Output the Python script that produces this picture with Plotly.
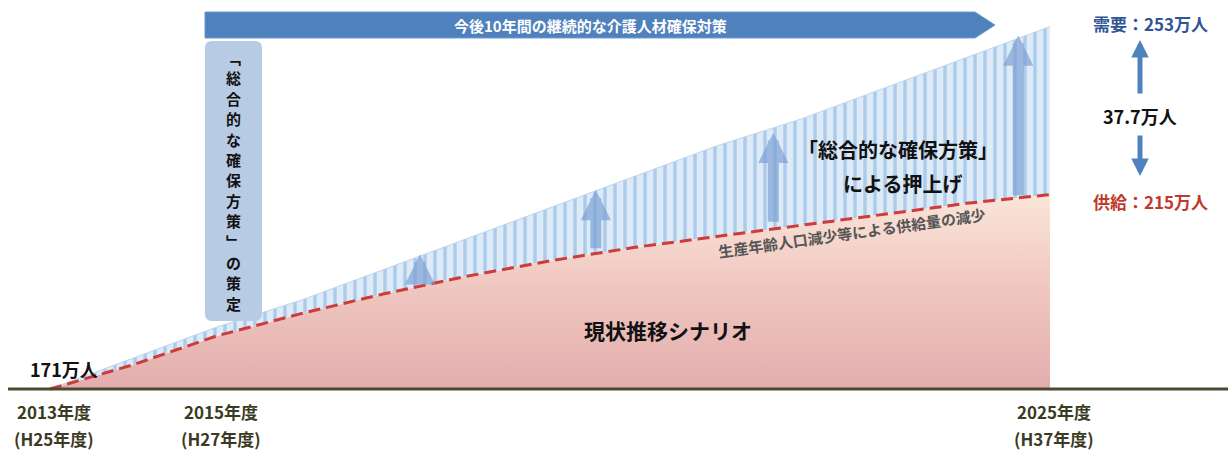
import plotly.graph_objects as go

# ---- data ----
years = [2013, 2014, 2015, 2016, 2017, 2018, 2019, 2020, 2021, 2022, 2023, 2024, 2025]
supply = [171, 176.5, 183, 188, 192.5, 196.5, 200, 203, 205.5, 208, 210.5, 213, 215]   # 現状推移シナリオ (万人)
demand = [171, 178, 185, 191, 198, 205, 212, 219, 226, 232, 239, 246, 253]            # 需要 (万人)
base_value = 171
tick_years = [2013, 2015, 2025]
tick_line1 = ["2013年度", "2015年度", "2025年度"]
tick_line2 = ["(H25年度)", "(H27年度)", "(H37年度)"]

W, H = 1229, 452
FONT = "Noto Sans CJK JP"


def pp(x, y):
    """pixel -> paper coords"""
    return x / W, 1 - y / H


fig = go.Figure()

# base (invisible) line for the supply fill
fig.add_trace(go.Scatter(x=years, y=[base_value] * len(years), mode="lines",
                         line=dict(width=0), hoverinfo="skip"))
# supply area with gradient
fig.add_trace(go.Scatter(
    x=years, y=supply, mode="lines", line=dict(width=0), fill="tonexty",
    fillgradient=dict(type="vertical", start=171, stop=215,
                      colorscale=[[0, "#e3adad"], [0.5, "#efc6bf"], [1, "#fbe5d8"]]),
    hoverinfo="skip"))
# demand hatched area
fig.add_trace(go.Scatter(
    x=years, y=demand, mode="lines", line=dict(width=1, color="#bcd5ee"), fill="tonexty",
    fillcolor="#dceaf7",
    fillpattern=dict(shape="|", bgcolor="#ddebf7", fgcolor="#80a9df", size=10, solidity=0.35),
    hoverinfo="skip"))
# dashed supply line on top
fig.add_trace(go.Scatter(x=years, y=supply, mode="lines",
                         line=dict(color="#cf3a3a", width=3, dash="12px,6px"),
                         hoverinfo="skip"))

shapes = []
# base line
shapes.append(dict(type="line", xref="paper", yref="y", x0=8 / W, x1=1228 / W,
                   y0=base_value, y1=base_value, line=dict(color="#4b4a30", width=3)))
# banner arrow
pts = [(205, 12), (975, 12), (995, 25), (975, 38), (205, 38)]
path = "M " + " L ".join(f"{pp(x, y)[0]:.5f},{pp(x, y)[1]:.5f}" for x, y in pts) + " Z"
shapes.append(dict(type="path", xref="paper", yref="paper", path=path,
                   fillcolor="#4f81bd", line=dict(color="#6f9ad0", width=1)))
# vertical rounded box
x0, x1, y0, y1, r = 205, 262, 41, 321, 7
def P(x, y):
    a, b = pp(x, y)
    return f"{a:.5f},{b:.5f}"
box = (f"M {P(x0 + r, y0)} L {P(x1 - r, y0)} Q {P(x1, y0)} {P(x1, y0 + r)} "
       f"L {P(x1, y1 - r)} Q {P(x1, y1)} {P(x1 - r, y1)} L {P(x0 + r, y1)} "
       f"Q {P(x0, y1)} {P(x0, y1 - r)} L {P(x0, y0 + r)} Q {P(x0, y0)} {P(x0 + r, y0)} Z")
shapes.append(dict(type="path", xref="paper", yref="paper", path=box,
                   fillcolor="#b7cbe4", line=dict(width=0)))

ann = []
def text(x, y, s, size, color="#111111", bold=True, angle=0, xanchor="center"):
    a, b = pp(x, y)
    ann.append(dict(x=a, y=b, xref="paper", yref="paper", text=f"<b>{s}</b>" if bold else s,
                    showarrow=False, xanchor=xanchor, yanchor="middle", textangle=angle,
                    font=dict(family=FONT, size=size, color=color)))

# tick labels
for yr, l1, l2 in zip(tick_years, tick_line1, tick_line2):
    for s, dy in ((l1, 0), (l2, 27)):
        ann.append(dict(x=yr, y=0, xref="x", yref="paper", yshift=H - 411 - dy, xshift=4,
                        text=f"<b>{s}</b>", showarrow=False, xanchor="center", yanchor="middle",
                        font=dict(family=FONT, size=17, color="#3b3a22")))

text(590, 25, "今後10年間の継続的な介護人材確保対策", 15, color="white")
# vertical text, one glyph per line
for i, ch in enumerate("﹁総合的な確保方策﹂の策定"):
    text(233, 57 + i * 20.5, ch, 15)
text(64, 369, "171万人", 18)
text(898, 149, "「総合的な確保方策」", 20)
text(902, 183, "による押上げ", 20)
text(852, 232, "生産年齢人口減少等による供給量の減少", 15, color="#555555", angle=-8)
text(668, 330, "現状推移シナリオ", 21)
text(1150, 23, "需要：253万人", 17, color="#2f5597")
text(1140, 116, "37.7万人", 18)
text(1150, 201, "供給：215万人", 17, color="#c0392b")

# big push-up arrows inside hatched area
for ax_, y_tail, y_tip in ((2017.44, 194.5, 201.5), (2019.55, 202.5, 216), (2021.68, 208.5, 229), (2024.62, 214.5, 251)):
    ann.append(dict(x=ax_, y=y_tip, ax=ax_, ay=y_tail, xref="x", yref="y", axref="x", ayref="y",
                    text="", showarrow=True, arrowhead=2, arrowsize=0.55, arrowwidth=11,
                    arrowcolor="rgba(125,162,214,0.7)"))

# right-side arrows
for tip, off in (((1140, 40), 55), ((1140, 176), -42)):
    a, b = pp(*tip)
    ann.append(dict(x=a, y=b, xref="paper", yref="paper", ax=0, ay=off, axref="pixel", ayref="pixel",
                    text="", showarrow=True, arrowhead=2, arrowsize=0.7, arrowwidth=5,
                    arrowcolor="#4f81bd"))

x_lo = 2013 - 50 / 83.33
x_hi = 2013 + (W - 50) / 83.33
py_per = 4.42
y_hi = 171 + 389 / py_per
y_lo = 171 - (H - 389) / py_per

fig.update_layout(
    width=W, height=H, margin=dict(l=0, r=0, t=0, b=0),
    paper_bgcolor="white", plot_bgcolor="white", showlegend=False,
    xaxis=dict(visible=False, range=[x_lo, x_hi]),
    yaxis=dict(visible=False, range=[y_lo, y_hi]),
    shapes=shapes, annotations=ann,
)
fig.write_html("out.html", config={"displayModeBar": False},
               post_script="document.body.style.margin='0';document.body.style.overflow='hidden';")
